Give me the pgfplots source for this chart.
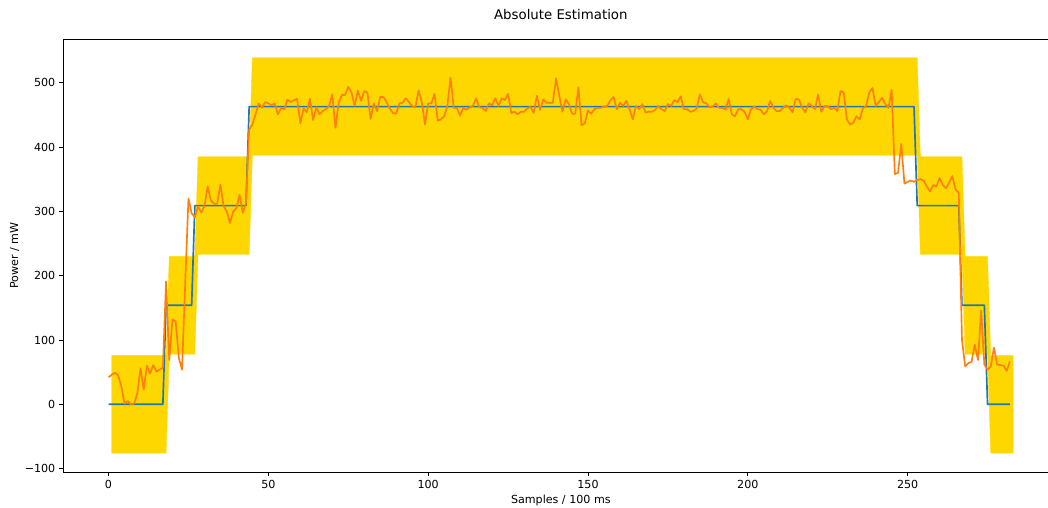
\documentclass[border=0pt]{standalone}
\usepackage{fontspec}
\setmainfont{DejaVu Sans}
\usepackage{pgfplots}
\pgfplotsset{compat=1.18}
\definecolor{mplblue}{HTML}{1F77B4}
\definecolor{mplorange}{HTML}{FF7F0E}
\definecolor{gold}{HTML}{FFD700}
\begin{document}
\begin{tikzpicture}
\begin{axis}[
  at={(0,0)}, anchor=south west,
  scale only axis, width=895.5pt, height=389.4pt,
  xmin=-14.15, xmax=297.15, ymin=-105.3, ymax=567.6,
  xtick={0,50,100,150,200,250}, xticklabels={0,50,100,150,200,250},
  ytick={-100,0,100,200,300,400,500},
  yticklabels={−100,0,100,200,300,400,500},
  tick align=outside, major tick length=3.5pt,
  tick style={black, line width=0.8pt},
  xtick pos=bottom, ytick pos=left,
  axis line style={black, line width=0.8pt},
  xticklabel style={anchor=base, yshift=-11.2pt, inner sep=0pt, font=\fontsize{10}{12}\selectfont},
  yticklabel style={anchor=east, xshift=-3.5pt, inner sep=0pt, font=\fontsize{10}{12}\selectfont},
  title={Absolute Estimation},
  title style={at={(0.5,1)}, anchor=base, yshift=12pt, inner sep=0pt, font=\fontsize{12}{14}\selectfont},
  xlabel={Samples / 100 ms},
  xlabel style={at={(axis description cs:0.5,0)}, anchor=base, yshift=-28.35pt, inner sep=0pt, font=\fontsize{10}{12}\selectfont},
  ylabel={Power / mW},
  ylabel style={at={(axis description cs:0,0.5)}, anchor=center, yshift=43.9pt, inner sep=0pt, font=\fontsize{10}{12}\selectfont},
]
% tolerance band
\addplot[fill=gold, draw=gold, line width=0.3pt] coordinates {
(1,76)(18,76)(19,230)(27,230)(28,385)(44,385)(45,539)(253,539)(254,385)(267,385)(268,230)(275,230)(276,76)(283,76)
(283,-76)(276,-76)(275,78)(268,78)(267,233)(254,233)(253,387)(45,387)(44,233)(28,233)(27,78)(19,78)(18,-76)(1,-76)
} -- cycle;
% actual
\addplot[mplblue, line width=1.5pt, line join=round] coordinates {
(0,0)(17,0)(18,154)(26,154)(27,309)(43,309)(44,463)(252,463)(253,309)(266,309)(267,154)(274,154)(275,0)(282,0)
};
% estimated
\addplot[mplorange, line width=1.5pt, line join=round] coordinates {
(0,42)(1,46)(2,49)(3,45)(4,28)(5,1)(6,5)(7,0)(8,1)(9,17)
(10,56)(11,23)(12,60)(13,48)(14,61)(15,51)(16,54)(17,57)(18,191)(19,69)
(20,132)(21,129)(22,72)(23,54)(24,190)(25,320)(26,297)(27,291)(28,308)(29,298)
(30,308)(31,339)(32,317)(33,312)(34,312)(35,342)(36,308)(37,300)(38,282)(39,300)
(40,305)(41,326)(42,298)(43,313)(44,427)(45,435)(46,451)(47,468)(48,461)(49,470)
(50,468)(51,465)(52,468)(53,451)(54,461)(55,459)(56,474)(57,470)(58,473)(59,475)
(60,437)(61,460)(62,454)(63,475)(64,442)(65,462)(66,451)(67,456)(68,459)(69,464)
(70,482)(71,430)(72,469)(73,481)(74,481)(75,494)(76,485)(77,464)(78,488)(79,472)
(80,487)(81,485)(82,444)(83,468)(84,456)(85,478)(86,478)(87,470)(88,460)(89,453)
(90,452)(91,468)(92,469)(93,476)(94,470)(95,464)(96,462)(97,488)(98,470)(99,435)
(100,468)(101,468)(102,483)(103,441)(104,443)(105,448)(106,464)(107,508)(108,461)(109,461)
(110,449)(111,461)(112,458)(113,462)(114,464)(115,476)(116,462)(117,461)(118,456)(119,468)
(120,465)(121,476)(122,464)(123,476)(124,473)(125,483)(126,453)(127,455)(128,451)(129,455)
(130,455)(131,460)(132,463)(133,453)(134,480)(135,458)(136,474)(137,469)(138,469)(139,469)
(140,507)(141,480)(142,455)(143,474)(144,467)(145,452)(146,452)(147,493)(148,434)(149,437)
(150,457)(151,452)(152,459)(153,461)(154,461)(155,463)(156,464)(157,473)(158,478)(159,459)
(160,469)(161,464)(162,472)(163,459)(164,443)(165,464)(166,459)(167,467)(168,454)(169,455)
(170,455)(171,458)(172,464)(173,459)(174,456)(175,467)(176,464)(177,473)(178,470)(179,479)
(180,459)(181,459)(182,455)(183,456)(184,460)(185,482)(186,470)(187,468)(188,462)(189,463)
(190,468)(191,461)(192,461)(193,458)(194,475)(195,451)(196,448)(197,459)(198,459)(199,455)
(200,443)(201,459)(202,463)(203,459)(204,458)(205,451)(206,456)(207,472)(208,461)(209,456)
(210,456)(211,461)(212,465)(213,461)(214,454)(215,475)(216,474)(217,461)(218,454)(219,468)
(220,464)(221,459)(222,482)(223,455)(224,464)(225,464)(226,459)(227,461)(228,456)(229,487)
(230,485)(231,443)(232,435)(233,438)(234,448)(235,443)(236,460)(237,464)(238,485)(239,492)
(240,464)(241,470)(242,477)(243,467)(244,461)(245,489)(246,358)(247,360)(248,405)(249,343)
(250,346)(251,348)(252,346)(253,349)(254,350)(255,348)(256,339)(257,331)(258,341)(259,339)
(260,352)(261,341)(262,336)(263,345)(264,355)(265,334)(266,329)(267,100)(268,59)(269,64)
(270,66)(271,93)(272,69)(273,146)(274,62)(275,54)(276,59)(277,88)(278,62)(279,61)
(280,60)(281,52)(282,67)
};
\end{axis}
\pgfresetboundingbox
\path[use as bounding box] (-56.97pt,-31.5pt) rectangle (886.2pt,424.8pt);
\end{tikzpicture}
\end{document}
